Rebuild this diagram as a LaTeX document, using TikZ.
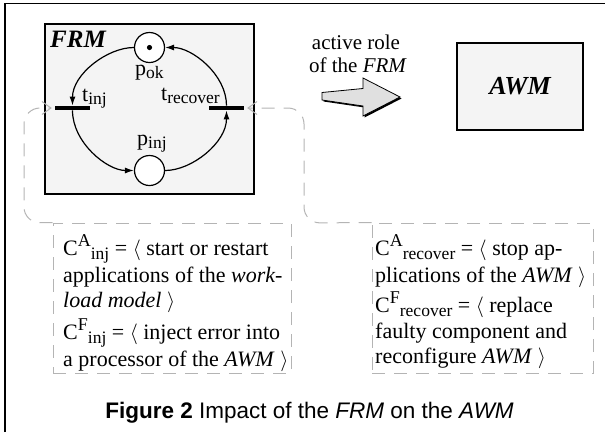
\documentclass[tikz,border=0pt]{standalone}
\usepackage{fontspec}
\setmainfont{Liberation Serif}
\newfontfamily\capfont{Liberation Sans}
\usetikzlibrary{arrows.meta,calc}

\newcommand\sz[1]{\fontsize{#1}{#1}\selectfont}
% raised / lowered indices of the condition names
\newcommand\upidx[1]{\raisebox{9pt}{\sz{18}#1}}
\newcommand\dnidx[1]{\raisebox{-4.5pt}{\sz{17.5}#1}}
% subscripts of the net labels
\newcommand\netsub[1]{\raisebox{-3pt}{\sz{17.5}#1}}

\definecolor{boxfill}{HTML}{F4F4F4}
\definecolor{arrowfill}{HTML}{E0E0E0}
\definecolor{callgray}{HTML}{B4B4B4}

\begin{document}
\begin{tikzpicture}[x=1pt,y=-1pt,
  module/.style={draw=black, line width=1.2pt, fill=boxfill, inner sep=0pt},
  place/.style={circle, draw=black, line width=1.2pt, fill=white, minimum size=30pt, inner sep=0pt},
  trans/.style={rectangle, fill=black, minimum width=35pt, minimum height=4.5pt, inner sep=0pt},
  arc/.style={line width=1.2pt, -{Latex[length=9pt,width=6pt]}},
  netlabel/.style={anchor=base west, inner sep=0pt, font=\sz{22}},
  txt/.style={anchor=base west, inner sep=0pt, font=\sz{22}},
  calloutline/.style={draw=callgray, line width=1pt, dash pattern=on 13pt off 9pt},
  condbox/.style={calloutline, rectangle, inner sep=0pt},
  callarrow/.style={calloutline, rounded corners=16pt, -{Straight Barb[length=9pt,width=13pt,line width=1pt]}},
]
\useasboundingbox (0,0) rectangle (605,432);

% outer frame
\draw[line width=1.4pt] (5,432) -- (5,3.5) -- (605,3.5);

% FRM module with its Petri net
\node[module, minimum width=209pt, minimum height=170pt] (frm) at (149.5,109) {};
\node[anchor=base west, inner sep=0pt, font=\sz{25}\bfseries\itshape] (frmname) at (50,47) {FRM};

\node[place] (pok) at (149.5,47.5) {};
\fill (pok.center) circle (2.6pt);
\node[place] (pinj) at (149.5,170.5) {};
\node[trans] (tinj) at (72.5,108) {};
\node[trans] (trec) at (226.5,108) {};

\draw[arc] (pok) .. controls (107,47.5) and (72.5,74.5) .. (tinj);
\draw[arc] (tinj) .. controls (72.5,142.5) and (107,170.5) .. (pinj);
\draw[arc] (pinj) .. controls (192,170.5) and (226.5,142.5) .. (trec);
\draw[arc] (trec) .. controls (226.5,74.5) and (192,47.5) .. (pok);

\node[netlabel] (lpok) at (135,75) {p\netsub{ok}};
\node[netlabel] (ltinj) at (82,101) {t\netsub{inj}};
\node[netlabel] (ltrec) at (161,100) {t\netsub{recover}};
\node[netlabel] (lpinj) at (137,145) {p\netsub{inj}};

% active role arrow
\node[anchor=base, inner sep=0pt, font=\sz{21}] (role1) at (356,49) {active role};
\node[anchor=base, inner sep=0pt, font=\sz{21}] (role2) at (358,72) {of the \textit{FRM}};
\fill[black] (323.5,94) -- (364.5,90) -- (364.5,79.5) -- (401.5,98.5) -- (364.5,117.5) -- (364.5,107.5) -- (323.5,101.5) -- cycle;
\filldraw[fill=arrowfill, draw=black, line width=0.8pt]
  (322,92.5) -- (363,88.5) -- (363,78) -- (400,97) -- (363,116) -- (363,106) -- (322,100) -- cycle;

% AWM module
\node[module, minimum width=126pt, minimum height=87pt, font=\sz{26}\bfseries\itshape] (awm) at (520,86.5) {AWM};

% condition boxes and their callouts
\node[condbox, minimum width=238pt, minimum height=150pt] (cinj) at (172,298) {};
\node[condbox, minimum width=221pt, minimum height=150pt] (crec) at (482.5,298) {};

\draw[callarrow] (cinj.north west) -- (24,223) -- (24,108) -- ([xshift=-3pt]tinj.west);
\draw[callarrow] (crec.north west) -- (304,223) -- (304,108) -- ([xshift=3pt]trec.east);

\node[txt] (i1) at (63,255) {C\upidx{A}\dnidx{inj} = $\langle$ start or restart};
\node[txt] (i2) at (63,282) {applications of the \textit{work-}};
\node[txt] (i3) at (63,307) {\textit{load model} $\rangle$};
\node[txt] (i4) at (63,339) {C\upidx{F}\dnidx{inj} = $\langle$ inject error into};
\node[txt] (i5) at (63,366) {a processor of the \textit{AWM} $\rangle$};

\node[txt] (r1) at (375,255) {C\upidx{A}\dnidx{recover} = $\langle$ stop ap-};
\node[txt] (r2) at (375,282) {plications of the \textit{AWM} $\rangle$};
\node[txt] (r3) at (375,312) {C\upidx{F}\dnidx{recover} = $\langle$ replace};
\node[txt] (r4) at (375,338) {faulty component and};
\node[txt] (r5) at (375,363) {reconfigure \textit{AWM} $\rangle$};

% caption
\node[anchor=base, inner sep=0pt, font=\capfont\sz{22.5}] (caption) at (309.5,418)
  {\textbf{Figure 2} Impact of the \textit{FRM} on the \textit{AWM}};
\end{tikzpicture}
\end{document}
